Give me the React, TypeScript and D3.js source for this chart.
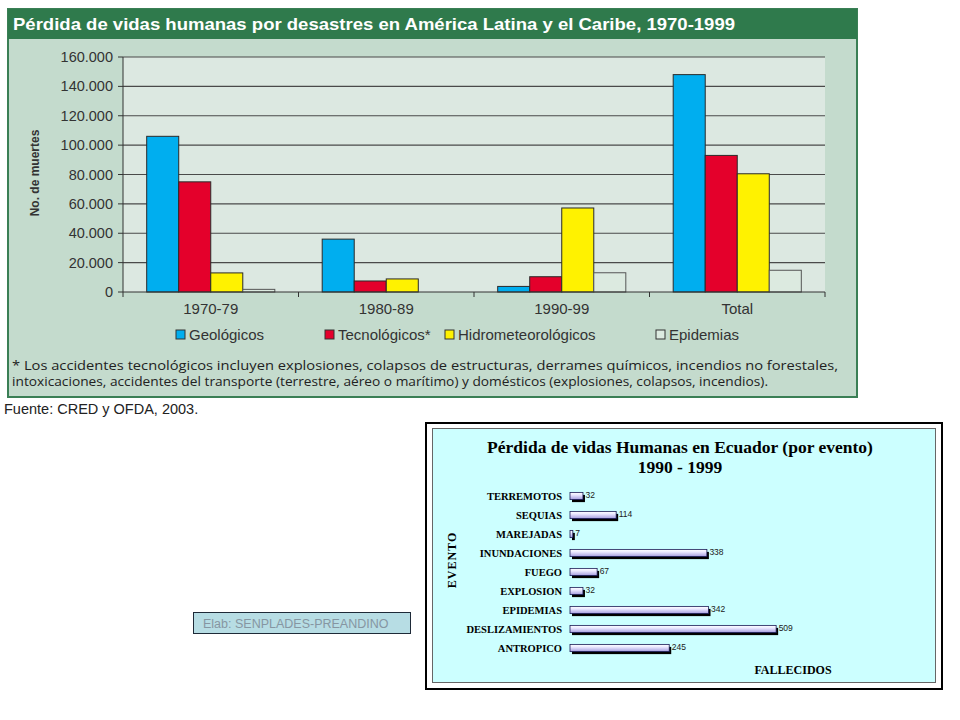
import React from 'react';
import * as d3 from 'd3';

// Top chart data (América Latina y el Caribe)
const periods = ['1970-79', '1980-89', '1990-99', 'Total'];
const seriesNames = ['Geológicos', 'Tecnológicos*', 'Hidrometeorológicos', 'Epidemias'];
const geologicos = [106000, 36000, 3800, 148000];
const tecnologicos = [75000, 7500, 10400, 93000];
const hidrometeorologicos = [13000, 8900, 57200, 80500];
const epidemias = [1800, 0, 13100, 14800];
const yTicks = [0, 20000, 40000, 60000, 80000, 100000, 120000, 140000, 160000];

// Bottom chart data (Ecuador)
const eventos = ['TERREMOTOS', 'SEQUIAS', 'MAREJADAS', 'INUNDACIONES', 'FUEGO', 'EXPLOSION', 'EPIDEMIAS', 'DESLIZAMIENTOS', 'ANTROPICO'];
const fallecidos = [32, 114, 7, 338, 67, 32, 342, 509, 245];

const seriesColors = ['#00AEEF', '#E4002B', '#FFF200', '#DCEAE0'];
const fmt = (v: number) => d3.format(',')(v).replace(/,/g, '.');

export default function App() {
  const values = [geologicos, tecnologicos, hidrometeorologicos, epidemias];

  const x0 = d3.scaleBand<string>().domain(periods).range([123, 825]);
  const bw = x0.bandwidth();
  const x1 = d3.scaleBand<number>().domain([0, 1, 2, 3]).range([bw * 0.135, bw * 0.865]);
  const y = d3.scaleLinear().domain([0, 160000]).range([292, 57]);

  const ey = d3.scaleBand<string>().domain(eventos).range([486.5, 657.5]).paddingInner(0.62).paddingOuter(0.31);
  const ex = d3.scaleLinear().domain([0, 600]).range([570, 813]);

  const legendX = [176, 325, 445, 656];
  const sans = 'Liberation Sans, Arial, sans-serif';
  const serif = 'Liberation Serif, Times New Roman, serif';

  return (
    <svg width={960} height={720} style={{ position: 'absolute', left: 0, top: 0 }}>
      <defs>
        <linearGradient id="barGrad" x1="0" y1="0" x2="0" y2="1">
          <stop offset="0" stopColor="#FFFFFF" />
          <stop offset="0.35" stopColor="#ECE9FF" />
          <stop offset="1" stopColor="#A49CDE" />
        </linearGradient>
      </defs>
      <rect width={960} height={720} fill="#FFFFFF" />

      {/* ---------- Top panel ---------- */}
      <rect x={8} y={9} width={849} height={388} fill="#C4DBCD" stroke="#3A7F55" strokeWidth={2} />
      <rect x={8} y={9} width={849} height={30} fill="#2F7A4C" />
      <text x={13} y={30} fill="#FFFFFF" fontFamily="Liberation Sans Narrow, Arial Narrow, Liberation Sans, sans-serif"
        fontWeight="bold" fontSize={16.5} textLength={722} lengthAdjust="spacingAndGlyphs">
        Pérdida de vidas humanas por desastres en América Latina y el Caribe, 1970-1999
      </text>

      <rect x={123} y={57} width={702} height={235} fill="#DCE8E1" />
      {yTicks.map(t => (
        <g key={t}>
          {t > 0 && <line x1={123} x2={825} y1={y(t)} y2={y(t)} stroke="#4A4A4A" strokeWidth={1.2} />}
          <line x1={118} x2={123} y1={y(t)} y2={y(t)} stroke="#333" />
          <text x={113} y={y(t) + 5} textAnchor="end" fontFamily={sans} fontSize={14.5} fill="#333">{fmt(t)}</text>
        </g>
      ))}
      <text transform="translate(39,173) rotate(-90)" textAnchor="middle" fontFamily={sans} fontWeight="bold"
        fontSize={12} fill="#333">No. de muertes</text>

      {periods.map((p, i) => (
        <g key={p} transform={`translate(${x0(p)},0)`}>
          {values.map((s, j) => (
            s[i] > 0 && <rect key={j} x={x1(j)} width={x1.bandwidth()} y={y(s[i])} height={292 - y(s[i])}
              fill={seriesColors[j]} stroke={j === 3 ? '#555' : '#2A2A2A'} strokeWidth={1} />
          ))}
          <text x={bw / 2} y={314} textAnchor="middle" fontFamily={sans} fontSize={15} fill="#333">{p}</text>
        </g>
      ))}
      <line x1={123} x2={123} y1={57} y2={292} stroke="#333" />
      <line x1={123} x2={825} y1={292} y2={292} stroke="#333" />
      {[...periods.map(p => x0(p) as number), 825].map((v, i) => (
        <line key={i} x1={v} x2={v} y1={292} y2={297} stroke="#333" />
      ))}

      {seriesNames.map((n, j) => (
        <g key={n}>
          <rect x={legendX[j]} y={330} width={9} height={9} fill={seriesColors[j]} stroke="#333" />
          <text x={legendX[j] + 13} y={340} fontFamily={sans} fontSize={15} fill="#333">{n}</text>
        </g>
      ))}

      <text x={12} y={370} fontFamily="Open Sans, Lato, sans-serif" fontSize={12.5} fill="#222" textLength={826} lengthAdjust="spacingAndGlyphs">
        * Los accidentes tecnológicos incluyen explosiones, colapsos de estructuras, derrames químicos, incendios no forestales,
      </text>
      <text x={12} y={386} fontFamily="Open Sans, Lato, sans-serif" fontSize={12.5} fill="#222" textLength={756} lengthAdjust="spacingAndGlyphs">
        intoxicaciones, accidentes del transporte (terrestre, aéreo o marítimo) y domésticos (explosiones, colapsos, incendios).
      </text>
      <text x={4} y={414} fontFamily={sans} fontSize={14.5} fill="#222">Fuente: CRED y OFDA, 2003.</text>

      {/* ---------- Elab box ---------- */}
      <rect x={193.5} y={612.5} width={217} height={21} fill="#B7DDE4" stroke="#1E2A38" />
      <text x={203} y={627.5} fontFamily={sans} fontSize={12.5} fill="#8696A2">Elab: SENPLADES-PREANDINO</text>

      {/* ---------- Bottom chart ---------- */}
      <rect x={426} y={423} width={516} height={266} fill="#FFFFFF" stroke="#000" strokeWidth={2} />
      <rect x={432.5} y={428.5} width={503} height={254} fill="#CCFFFF" stroke="#666" strokeWidth={1} />
      <text x={680} y={453} textAnchor="middle" fontFamily={serif} fontWeight="bold" fontSize={17.5} fill="#000">
        Pérdida de vidas Humanas en Ecuador (por evento)
      </text>
      <text x={680} y={473} textAnchor="middle" fontFamily={serif} fontWeight="bold" fontSize={17.5} fill="#000">
        1990 - 1999
      </text>
      <text transform="translate(456,560) rotate(-90)" textAnchor="middle" fontFamily={serif} fontWeight="bold"
        fontSize={12} fill="#000" letterSpacing={1}>EVENTO</text>

      {eventos.map((e, i) => {
        const by = ey(e) as number;
        const h = ey.bandwidth();
        const w = ex(fallecidos[i]) - ex(0);
        return (
          <g key={e}>
            <text x={562} y={by + h / 2 + 3.5} textAnchor="end" fontFamily={serif} fontWeight="bold" fontSize={10.5}
              fill="#000">{e}</text>
            <rect x={ex(0) + 2} y={by + 2.5} width={w} height={h} fill="#000" />
            <rect x={ex(0)} y={by} width={w} height={h} fill="url(#barGrad)" stroke="#1A1A55" strokeWidth={0.8} />
            <text x={ex(fallecidos[i]) + 2.5} y={by + h / 2 + 1.5} fontFamily={sans} fontSize={8.5} fill="#222">
              {fallecidos[i]}
            </text>
          </g>
        );
      })}
      <text x={793} y={674} textAnchor="middle" fontFamily={serif} fontWeight="bold" fontSize={12} fill="#000">FALLECIDOS</text>
    </svg>
  );
}
